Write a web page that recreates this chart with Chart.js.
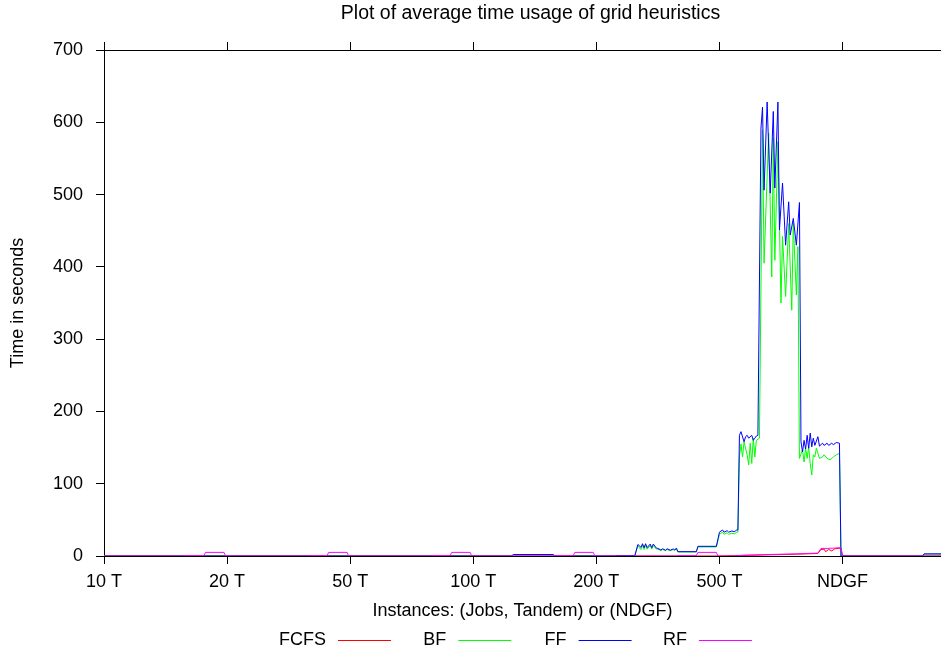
<!DOCTYPE html>
<html>
<head>
<meta charset="utf-8">
<script src="https://cdn.jsdelivr.net/npm/chart.js@4.4.1/dist/chart.umd.min.js"></script>
<style>
  body { margin: 0; background: #fff; }
  #wrap { width: 941px; height: 655px; }
</style>
</head>
<body>
<div id="wrap"><canvas id="timeChart" width="941" height="655"></canvas></div>
<script>
// instance groups on the x axis, 80 instances each
var groupLabels = ["10 T", "20 T", "50 T", "100 T", "200 T", "500 T", "NDGF"];
var instancesPerGroup = 80;
var lastInstance = 544;
var yTicks = [0, 100, 200, 300, 400, 500, 600, 700];
var seriesNames = ["FCFS", "BF", "FF", "RF"];
var seriesColors = ["#ff0000", "#00ff00", "#0000ff", "#ff00ff"];

// [instance, seconds]
var fcfsTimes = [
  [0, 0], [400, 0], [410, 0.5], [430, 1.5], [450, 2.5], [464, 3.5], [466, 9], [468, 9.5],
  [469, 6], [471, 9], [473, 7], [475, 10], [479, 11], [480, 0], [544, 0]
];
var bfTimes = [
  [0, 0], [265, 0], [266, 1.8], [292, 1.8], [293, 0],
  [332, 0], [333, 0.4], [345, 0.4],
  [347, 14], [349, 9], [350, 15], [351, 9], [352, 15], [353, 9.5], [355, 14.5], [356, 9.5], [357, 14.5], [359, 9.5],
  [360, 9.5], [362, 7.5], [363, 9], [365, 7.5], [366, 9], [368, 7.5], [370, 9], [371, 7.5], [372, 10], [373, 5.5],
  [385, 5.5], [386, 12.5], [398, 12.5], [400, 30], [402, 33], [403, 30], [405, 32], [406, 30], [408, 31.5], [410, 30.5], [411, 33], [412, 33],
  [413, 137], [414, 155], [415, 137], [416, 158], [418, 140], [419, 126], [420, 156], [421, 128], [422, 163], [423, 137], [424, 160], [426, 163],
  [428, 589], [429, 405], [432, 585], [434, 386], [435, 578], [436, 409], [438, 573], [440, 350], [441, 442], [443, 359],
  [445, 460], [447, 340], [448, 460], [450, 361], [451, 428],
  [452, 135], [454, 147], [455, 130], [456, 149], [457, 135], [458, 151], [459, 128], [460, 112], [461, 140], [462, 137],
  [463, 149], [465, 135], [467, 137], [468, 140], [470, 135], [472, 133], [474, 137], [476, 140], [478, 142], [479, 0],
  [532, 0], [533, 2.5], [544, 2.5]
];
var ffTimes = [
  [0, 0], [265, 0], [266, 2], [292, 2], [293, 0],
  [332, 0], [333, 0.5], [345, 0.5],
  [347, 16], [349, 12], [350, 17], [351, 11.5], [352, 17], [353, 11.5], [355, 16.5], [356, 11.5], [357, 16.5], [359, 11],
  [360, 10.5], [362, 8.3], [363, 10], [365, 8], [366, 10], [368, 8], [370, 9.7], [371, 8.3], [372, 11], [373, 6],
  [385, 6], [386, 13.4], [398, 13.4], [400, 33], [402, 36], [403, 33], [405, 35], [406, 33], [408, 34.6], [410, 33.6], [411, 36], [412, 36],
  [413, 167], [414, 172], [416, 158], [417, 165], [418, 167], [419, 163], [421, 167], [422, 160], [423, 163], [424, 166], [425, 167],
  [427, 592], [428, 621], [429, 506], [431, 628], [433, 502], [435, 615], [436, 509], [438, 628], [439, 451], [441, 516],
  [443, 430], [445, 490], [446, 444], [448, 467], [450, 430], [452, 489],
  [453, 158], [454, 144], [455, 160], [456, 148], [457, 167], [458, 149], [459, 170], [460, 151], [461, 163], [462, 153],
  [464, 165], [465, 152], [467, 156], [468, 153], [470, 156], [471, 153], [473, 156], [474, 154], [476, 157], [478, 156], [479, 0],
  [532, 0], [533, 3], [544, 3]
];
var rfTimes = [
  [0, 0], [52, 0], [53, 0.5], [65, 0.5], [66, 5], [78, 5], [79, 0],
  [132, 0], [133, 0.5], [145, 0.5], [146, 5], [158, 5], [159, 0],
  [212, 0], [213, 0.5], [225, 0.5], [226, 5], [238, 5], [239, 0],
  [292, 0], [293, 0.5], [305, 0.5], [306, 5], [318, 5], [319, 0],
  [372, 0], [373, 0.5], [385, 0.5], [386, 5], [398, 5], [399, 0],
  [409, 0], [415, 1], [430, 2], [450, 3], [464, 4], [466, 10.5], [470, 10.5], [475, 11], [479, 11.5], [480, 0], [544, 0]
];

var chartTitle = "Plot of average time usage of grid heuristics";
var fontFamily = "'Liberation Sans', Arial, sans-serif";

Chart.defaults.font.family = fontFamily;
Chart.defaults.font.size = 18;
Chart.defaults.color = "#000";

function groupTicks(scale) {
  scale.ticks = groupLabels.map(function (l, i) { return { value: i * instancesPerGroup }; });
}

// gnuplot style title and legend (label on the left, line sample on the right)
var gnuplotText = {
  id: "gnuplotText",
  afterDraw: function (chart) {
    var ctx = chart.ctx, area = chart.chartArea;
    var mid = (area.left + area.right) / 2;
    ctx.save();
    ctx.fillStyle = "#000";
    ctx.textBaseline = "middle";
    ctx.textAlign = "center";
    ctx.font = "19.5px " + fontFamily;
    ctx.fillText(chartTitle, mid + 8, 14);
    ctx.font = "18px " + fontFamily;
    chart.data.datasets.forEach(function (ds, i) {
      var lineEnd = 391 + i * 120.3, lineStart = lineEnd - 53, y = 640;
      ctx.textAlign = "right";
      ctx.fillText(ds.label, lineStart - 12, y);
      ctx.strokeStyle = ds.borderColor;
      ctx.lineWidth = 1;
      ctx.beginPath();
      ctx.moveTo(lineStart, y + 0.5);
      ctx.lineTo(lineEnd, y + 0.5);
      ctx.stroke();
    });
    ctx.restore();
  }
};

var allTimes = [fcfsTimes, bfTimes, ffTimes, rfTimes];
var datasets = allTimes.map(function (d, i) {
  return {
    label: seriesNames[i],
    data: d,
    borderColor: seriesColors[i],
    backgroundColor: seriesColors[i],
    borderWidth: 1,
    borderJoinStyle: "round",
    pointRadius: 0,
    tension: 0,
    order: 3 - i   // RF drawn on top, like gnuplot
  };
});

var axisGrid = { drawOnChartArea: false, tickLength: 8, color: "#000", lineWidth: 1 };
var axisBorder = { color: "#000", width: 1 };

new Chart(document.getElementById("timeChart"), {
  type: "line",
  data: { datasets: datasets },
  options: {
    responsive: false,
    animation: false,
    layout: { padding: 0 },
    plugins: { legend: { display: false }, title: { display: false }, tooltip: { enabled: false } },
    scales: {
      x: {
        type: "linear", position: "bottom", min: 0, max: lastInstance, z: 1,
        afterBuildTicks: groupTicks,
        afterFit: function (s) { s.height = 99; },
        ticks: { padding: 7, maxRotation: 0, callback: function (v) { return groupLabels[v / instancesPerGroup]; } },
        grid: axisGrid, border: axisBorder,
        title: { display: true, text: "Instances: (Jobs, Tandem) or (NDGF)", padding: { top: 0, bottom: 33 } }
      },
      xTop: {
        type: "linear", position: "top", min: 0, max: lastInstance, z: 1,
        afterBuildTicks: groupTicks,
        afterFit: function (s) { s.height = 50; },
        ticks: { display: false },
        grid: axisGrid, border: axisBorder
      },
      y: {
        type: "linear", position: "left", min: yTicks[0], max: yTicks[yTicks.length - 1], z: 1,
        afterBuildTicks: function (s) { s.ticks = yTicks.map(function (v) { return { value: v }; }); },
        afterFit: function (s) { s.width = 104; },
        ticks: { padding: 13 },
        grid: axisGrid, border: axisBorder,
        title: { display: true, text: "Time in seconds", padding: { top: 7, bottom: 0 } }
      }
    }
  },
  plugins: [gnuplotText]
});
</script>
</body>
</html>
